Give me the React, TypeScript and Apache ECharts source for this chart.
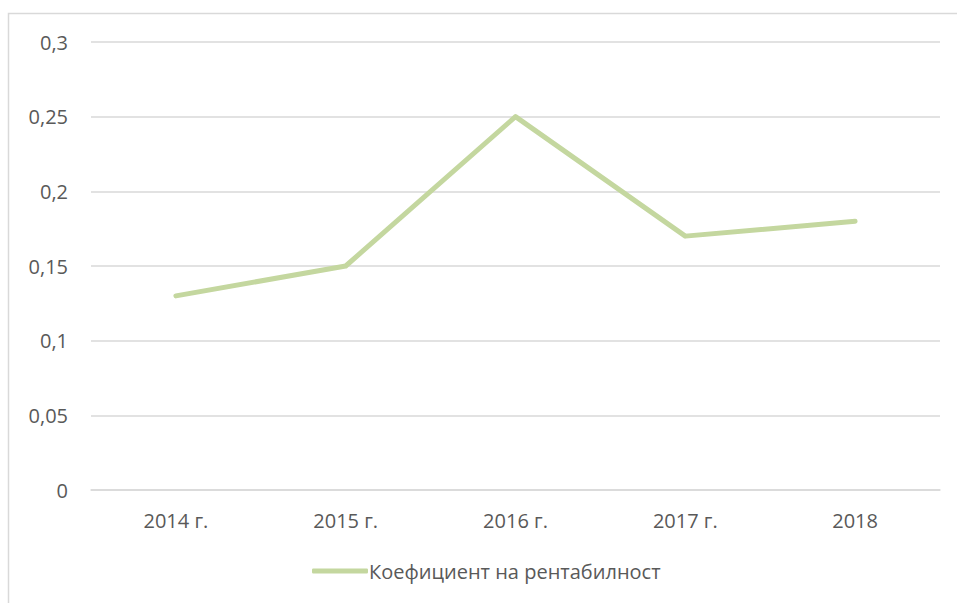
import React, { useEffect, useRef } from "react";
import * as echarts from "echarts";

const categories = ["2014 г.", "2015 г.", "2016 г.", "2017 г.", "2018"];
const values = [0.13, 0.15, 0.25, 0.17, 0.18];
const seriesName = "Коефициент на рентабилност";

export default function App() {
  const ref = useRef<HTMLDivElement>(null);
  useEffect(() => {
    document.body.style.margin = "0";
    const chart = echarts.init(ref.current!, null, { renderer: "svg" });
    const font = "'Open Sans', 'Noto Sans', sans-serif";
    chart.setOption({
      animation: false,
      backgroundColor: "#ffffff",
      textStyle: { fontFamily: font },
      graphic: [
        {
          type: "rect",
          shape: { x: 8.5, y: 13.5, width: 1000, height: 1000 },
          style: { fill: "none", stroke: "#d9d9d9", lineWidth: 1.5 },
          silent: true,
        },
      ],
      grid: { left: 91, right: 17, top: 42, bottom: 113 },
      legend: {
        top: 561,
        left: 312,
        padding: 0,
        icon: "roundRect",
        itemWidth: 56,
        itemHeight: 5,
        itemGap: 10,
        textStyle: { color: "#595959", fontSize: 20, fontFamily: font, padding: [0, 0, 0, -4] },
        data: [seriesName],
      },
      xAxis: {
        type: "category",
        data: categories,
        boundaryGap: true,
        axisLine: { show: true, lineStyle: { color: "#d9d9d9", width: 1.5 } },
        axisTick: { show: false },
        axisLabel: { color: "#595959", fontSize: 20, margin: 20, fontFamily: font },
      },
      yAxis: {
        type: "value",
        min: 0,
        max: 0.3,
        interval: 0.05,
        axisLine: { show: false },
        axisTick: { show: false },
        splitLine: { lineStyle: { color: "#d9d9d9", width: 1.5 } },
        axisLabel: {
          color: "#595959",
          fontSize: 20,
          margin: 23,
          fontFamily: font,
          formatter: (v: number) => String(+v.toFixed(2)).replace(".", ","),
        },
      },
      series: [
        {
          name: seriesName,
          type: "line",
          data: values,
          symbol: "none",
          color: "#c4d79f",
          lineStyle: { color: "#c4d79f", width: 5, cap: "round", join: "round" },
        },
      ],
    });
    return () => chart.dispose();
  }, []);
  return (
    <div
      ref={ref}
      style={{ position: "fixed", left: 0, top: 0, width: 957, height: 603 }}
    />
  );
}
